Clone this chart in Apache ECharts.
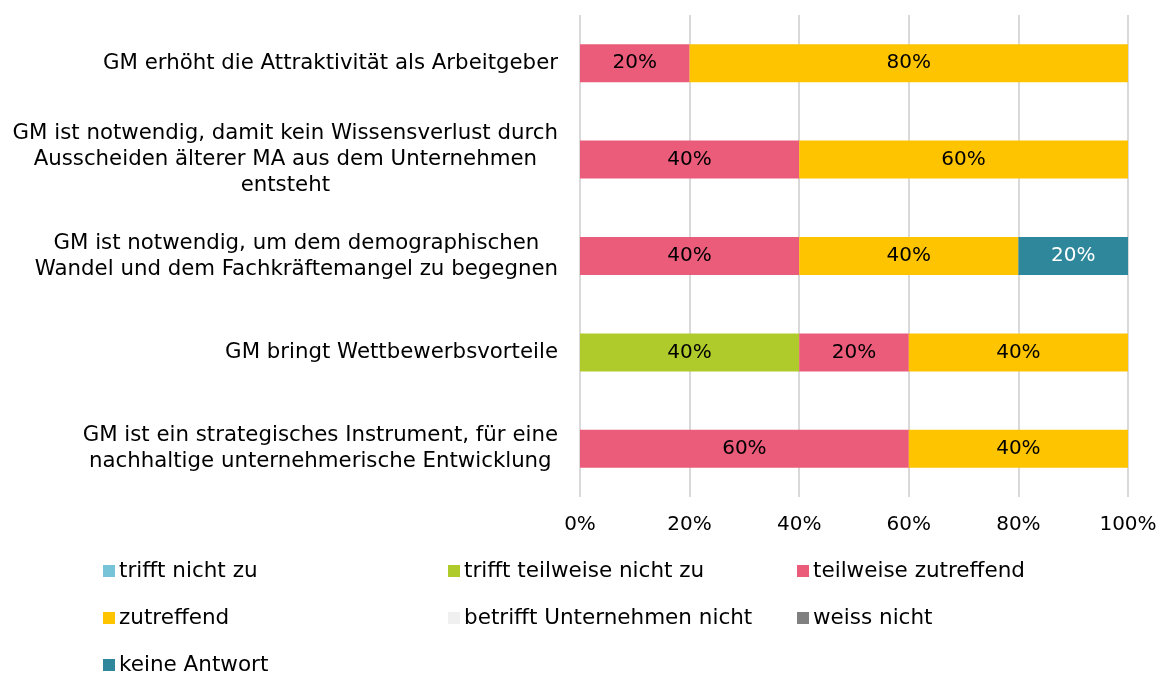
<!DOCTYPE html>
<html>
<head>
<meta charset="utf-8">
<script src="https://cdn.jsdelivr.net/npm/echarts@6/dist/echarts.min.js"></script>
<style>
  html, body { margin: 0; padding: 0; background: #fff; }
  #chart { width: 1162px; height: 673px; }
</style>
</head>
<body>
<div id="chart"></div>
<script>
// Aussagen (von oben nach unten)
const categories = [
  'GM erhöht die Attraktivität als Arbeitgeber',
  'GM ist notwendig, damit kein Wissensverlust durch\nAusscheiden älterer MA aus dem Unternehmen\nentsteht',
  'GM ist notwendig, um dem demographischen\nWandel und dem Fachkräftemangel zu begegnen',
  'GM bringt Wettbewerbsvorteile',
  'GM ist ein strategisches Instrument, für eine\nnachhaltige unternehmerische Entwicklung'
]

// Antworten in Prozent, null = keine Nennung
const trifftNichtZu = [null, null, null, null, null]
const trifftTeilweiseNichtZu = [null, null, null, 40, null]
const teilweiseZutreffend = [20, 40, 40, 20, 60]
const zutreffend = [80, 60, 40, 40, 40]
const betrifftNicht = [null, null, null, null, null]
const weissNicht = [null, null, null, null, null]
const keineAntwort = [null, null, 20, null, null]

const xTicks = [0, 20, 40, 60, 80, 100]

const FONT = 'DejaVu Sans'

const seriesDefs = [
  { name: 'trifft nicht zu', data: trifftNichtZu, color: '#77C4D8', text: '#000' },
  { name: 'trifft teilweise nicht zu', data: trifftTeilweiseNichtZu, color: '#AFCA2B', text: '#000' },
  { name: 'teilweise zutreffend', data: teilweiseZutreffend, color: '#EB5B7A', text: '#000' },
  { name: 'zutreffend', data: zutreffend, color: '#FFC400', text: '#000' },
  { name: 'betrifft Unternehmen nicht', data: betrifftNicht, color: '#F0F0F0', text: '#000' },
  { name: 'weiss nicht', data: weissNicht, color: '#808080', text: '#fff' },
  { name: 'keine Antwort', data: keineAntwort, color: '#2E879B', text: '#fff' }
]

const chart = echarts.init(document.getElementById('chart'))

const legendBase = {
  orient: 'vertical',
  top: 560,
  padding: 0,
  itemWidth: 12,
  itemHeight: 12,
  itemGap: 25,
  icon: 'rect',
  textStyle: { fontFamily: FONT, fontSize: 21.5, color: '#000', padding: [0, 0, 0, -1] }
}

const option = {
  animation: false,
  textStyle: { fontFamily: FONT },
  grid: { left: 580, right: 34, top: 15, bottom: 176 },
  legend: [
    Object.assign({}, legendBase, { left: 103, data: ['trifft nicht zu', 'zutreffend'] }),
    Object.assign({}, legendBase, { left: 103, top: 654, data: ['keine Antwort'] }),
    Object.assign({}, legendBase, { left: 448, data: ['trifft teilweise nicht zu', 'betrifft Unternehmen nicht'] }),
    Object.assign({}, legendBase, { left: 797, data: ['teilweise zutreffend', 'weiss nicht'] })
  ],
  xAxis: {
    type: 'value',
    min: xTicks[0],
    max: xTicks[xTicks.length - 1],
    interval: 20,
    axisLine: { show: false },
    axisTick: { show: false },
    splitLine: { show: true, lineStyle: { color: '#D9D9D9', width: 2 } },
    axisLabel: {
      margin: 18,
      fontFamily: FONT,
      fontSize: 20,
      color: '#000',
      formatter: v => v + '%'
    }
  },
  yAxis: {
    type: 'category',
    inverse: true,
    data: categories,
    axisLine: { show: false },
    axisTick: { show: false },
    axisLabel: {
      margin: 22,
      fontFamily: FONT,
      fontSize: 21.3,
      color: '#000',
      lineHeight: 26,
      formatter: v => v.split('\n').map(l => '{c|' + l + '}').join('\n'),
      rich: {
        c: { align: 'center', fontFamily: FONT, fontSize: 21.3, color: '#000', lineHeight: 26 }
      }
    }
  },
  series: seriesDefs.map(s => ({
    name: s.name,
    type: 'bar',
    stack: 'total',
    barWidth: 38,
    data: s.data,
    itemStyle: { color: s.color },
    label: {
      show: true,
      position: 'inside',
      fontFamily: FONT,
      fontSize: 20,
      color: s.text,
      formatter: p => (p.value == null ? '' : p.value + '%')
    }
  }))
}

chart.setOption(option)
</script>
</body>
</html>
